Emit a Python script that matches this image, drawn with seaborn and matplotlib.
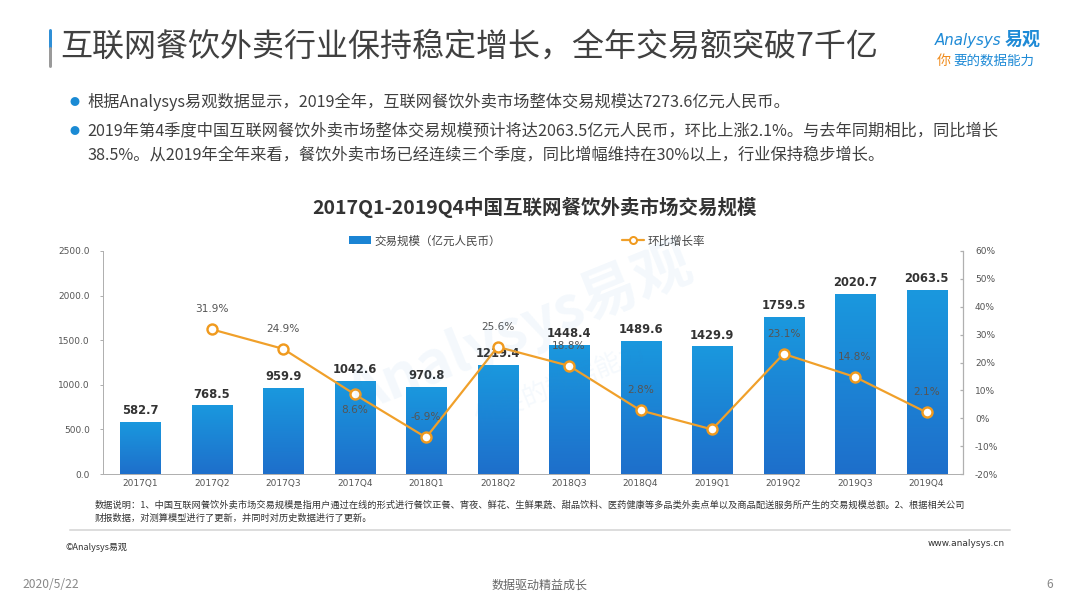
import numpy as np
import pandas as pd
import seaborn as sns
import matplotlib.pyplot as plt
from matplotlib.patches import Patch
from matplotlib.lines import Line2D

# data
quarters = ['2017Q1', '2017Q2', '2017Q3', '2017Q4', '2018Q1', '2018Q2',
            '2018Q3', '2018Q4', '2019Q1', '2019Q2', '2019Q3', '2019Q4']
volume = [582.7, 768.5, 959.9, 1042.6, 970.8, 1219.4,
          1448.4, 1489.6, 1429.9, 1759.5, 2020.7, 2063.5]
growth = [np.nan, 31.9, 24.9, 8.6, -6.9, 25.6, 18.8, 2.8, -4.0, 23.1, 14.8, 2.1]
growth_labels = ['', '31.9%', '24.9%', '8.6%', '-6.9%', '25.6%', '18.8%',
                 '2.8%', '', '23.1%', '14.8%', '2.1%']
left_ticks = [0, 500, 1000, 1500, 2000, 2500]
right_ticks = [-20, -10, 0, 10, 20, 30, 40, 50, 60]

title = '互联网餐饮外卖行业保持稳定增长，全年交易额突破7千亿'
bullets = [
    '根据Analysys易观数据显示，2019全年，互联网餐饮外卖市场整体交易规模达7273.6亿元人民币。',
    '2019年第4季度中国互联网餐饮外卖市场整体交易规模预计将达2063.5亿元人民币，环比上涨2.1%。与去年同期相比，同比增长',
    '38.5%。从2019年全年来看，餐饮外卖市场已经连续三个季度，同比增幅维持在30%以上，行业保持稳步增长。',
]
chart_title = '2017Q1-2019Q4中国互联网餐饮外卖市场交易规模'
note = [
    '数据说明：1、中国互联网餐饮外卖市场交易规模是指用户通过在线的形式进行餐饮正餐、宵夜、鲜花、生鲜果蔬、甜品饮料、医药健康等多品类外卖点单以及商品配送服务所产生的交易规模总额。2、根据相关公司',
    '财报数据，对测算模型进行了更新，并同时对历史数据进行了更新。',
]

df = pd.DataFrame({'quarter': quarters, 'volume': volume, 'growth': growth})
df['pos'] = np.arange(len(df))

sns.set_theme(style='white')
plt.rcParams['font.family'] = ['Noto Sans CJK SC', 'DejaVu Sans']

W, H = 1080, 608
fig = plt.figure(figsize=(W / 72, H / 72), dpi=72)


def px(x, y):
    return x / W, 1 - y / H


# header
fig.add_artist(Line2D([50 / W, 50 / W], [1 - 30 / H, 1 - 48 / H], color='#2f8fd6', lw=3))
fig.add_artist(Line2D([50 / W, 50 / W], [1 - 48 / H, 1 - 66 / H], color='#9a9a9a', lw=3))
fig.text(*px(60, 47), title, fontsize=32, color='#404040', va='center', ha='left',
         fontweight='light')
fig.text(*px(1001, 40), 'Analysys', fontsize=15, color='#1e8ad6', va='center',
         ha='right', style='italic', family='DejaVu Sans')
fig.text(*px(1005, 40), '易观', fontsize=18, color='#1e8ad6', va='center',
         ha='left', fontweight='bold')
fig.text(*px(937, 61), '你', fontsize=14, color='#f08c1e', va='center', ha='left')
fig.text(*px(953, 61), '要的数据能力', fontsize=13.5, color='#1e8ad6', va='center', ha='left')

# bullets
for y, t, dot in [(102, bullets[0], True), (131, bullets[1], True), (155, bullets[2], False)]:
    if dot:
        fig.text(*px(74, y), '●', fontsize=10, color='#1a8ad4', va='center', ha='center')
    fig.text(*px(87, y), t, fontsize=16.2, color='#404040', va='center', ha='left',
             fontweight='light')

fig.text(*px(535, 208), chart_title, fontsize=19.5, color='#333333', fontweight='bold',
         va='center', ha='center')

# chart area
ax = fig.add_axes([103 / W, 1 - 474 / H, (963 - 103) / W, (474 - 251) / H])
sns.barplot(data=df, x='quarter', y='volume', ax=ax, width=0.56, color='#1a84d4',
            saturation=1, zorder=2)

grad = np.linspace(0, 1, 100).reshape(-1, 1)
cmap = sns.blend_palette(['#1a98de', '#1e6fcb'], as_cmap=True)
for p, v in zip(ax.patches, df['volume']):
    x0, w, h = p.get_x(), p.get_width(), p.get_height()
    im = ax.imshow(grad, extent=[x0, x0 + w, 0, h], aspect='auto', cmap=cmap,
                   origin='upper', zorder=2)
    im.set_clip_path(p)
    p.set_facecolor('none')
    ax.text(x0 + w / 2, h + 55, f'{v:.1f}', ha='center', va='bottom', fontsize=11.5,
            fontweight='bold', color='#333333', family='DejaVu Sans', zorder=5)

ax.set_xlim(-0.52, len(quarters) - 0.49)
ax.set_ylim(0, 2500)
ax.set_yticks(left_ticks)
ax.set_yticklabels([f'{t:.1f}' for t in left_ticks])
ax.set_xlabel('')
ax.set_ylabel('')
for s in ['top', 'right']:
    ax.spines[s].set_visible(False)
for s in ['left', 'bottom']:
    ax.spines[s].set_color('#b0b0b0')
    ax.spines[s].set_linewidth(1)
ax.tick_params(axis='y', which='both', direction='out', length=3, width=1,
               color='#b0b0b0', labelsize=9, labelcolor='#555555', pad=10, left=True)
ax.tick_params(axis='x', length=0, labelsize=9, labelcolor='#555555', pad=5)
for lab in ax.get_xticklabels() + ax.get_yticklabels():
    lab.set_family('DejaVu Sans')

ax2 = ax.twinx()
sns.lineplot(data=df, x='pos', y='growth', ax=ax2, color='#f0a02a', lw=2.2,
             marker='o', markersize=10, markerfacecolor='white',
             markeredgecolor='#f09a1e', markeredgewidth=2.4, zorder=4)
ax2.set_ylim(-20, 60)
ax2.set_yticks(right_ticks)
ax2.set_yticklabels([f'{t}%' for t in right_ticks])
ax2.set_xlabel('')
ax2.set_ylabel('')
for s in ['top', 'left', 'bottom']:
    ax2.spines[s].set_visible(False)
ax2.spines['right'].set_color('#b0b0b0')
ax2.tick_params(axis='y', direction='in', length=3, color='#b0b0b0', labelsize=9,
                labelcolor='#555555', pad=12, right=True)
for lab in ax2.get_yticklabels():
    lab.set_family('DejaVu Sans')

for xpos, g, lab in zip(df['pos'], df['growth'], growth_labels):
    if not lab:
        continue
    off = -16 if lab == '8.6%' else 20
    ax2.annotate(lab, (xpos, g), xytext=(0, off), textcoords='offset points',
                 ha='center', va='center', fontsize=10.5, color='#555555',
                 family='DejaVu Sans', zorder=6)

handles = [Patch(facecolor='#1a84d4', edgecolor='none'),
           Line2D([], [], color='#f0a02a', lw=2.2, marker='o', markersize=7,
                  markerfacecolor='white', markeredgecolor='#f09a1e', markeredgewidth=2)]
fig.legend(handles, ['交易规模（亿元人民币）', '环比增长率'], loc='center',
           bbox_to_anchor=px(527, 241), ncol=2, frameon=False, fontsize=11.5,
           labelcolor='#444444', columnspacing=10.5, handlelength=1.9,
           handleheight=0.7, handletextpad=0.3)

# faint watermark
fig.text(*px(520, 330), 'Analysys易观', fontsize=58, color='#3d8fd6', alpha=0.06,
         rotation=22, ha='center', va='center', fontweight='bold', zorder=10)
fig.text(*px(560, 385), '你要的数据能力', fontsize=26, color='#3d8fd6', alpha=0.05,
         rotation=22, ha='center', va='center', zorder=10)

# footnote and footer
fig.text(*px(95, 505), note[0], fontsize=9.2, color='#333333', va='center', ha='left')
fig.text(*px(95, 518), note[1], fontsize=9.2, color='#333333', va='center', ha='left')
fig.add_artist(Line2D([70 / W, 1010 / W], [1 - 530 / H, 1 - 530 / H], color='#dddddd', lw=2))
fig.text(*px(65, 547), '©Analysys易观', fontsize=9, color='#333333', va='center', ha='left')
fig.text(*px(1005, 543), 'www.analysys.cn', fontsize=9, color='#333333', va='center',
         ha='right', family='DejaVu Sans')
fig.text(*px(22, 585), '2020/5/22', fontsize=12, color='#888888', va='center', ha='left')
fig.text(*px(540, 585), '数据驱动精益成长', fontsize=12, color='#666666', va='center', ha='center')
fig.text(*px(1050, 585), '6', fontsize=12, color='#888888', va='center', ha='center')

fig.savefig('out.png', dpi=72)
